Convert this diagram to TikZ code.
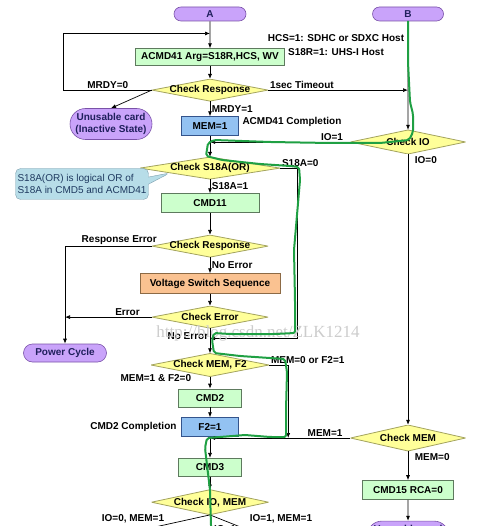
\documentclass[tikz,border=0pt]{standalone}
\usepackage{fontspec}
\setmainfont{Liberation Sans}
\newfontfamily\wmfont{Liberation Serif}
\usetikzlibrary{arrows.meta,positioning,shapes.misc,shapes.callouts,calc}
\definecolor{termfill}{HTML}{C9A3FA}
\definecolor{termline}{HTML}{7A52A8}
\definecolor{termtext}{HTML}{1F1F5C}
\definecolor{procfill}{HTML}{CCFFCC}
\definecolor{procline}{HTML}{5E7A5E}
\definecolor{setfill}{HTML}{93C2F2}
\definecolor{setline}{HTML}{34548C}
\definecolor{voltfill}{HTML}{FAC291}
\definecolor{voltline}{HTML}{8C6A45}
\definecolor{diafill}{HTML}{FFFF99}
\definecolor{dialine}{HTML}{A3A35E}
\definecolor{notefill}{HTML}{B7DDE8}
\definecolor{noteline}{HTML}{7D9FAE}
\definecolor{notetext}{HTML}{1F3A60}
\definecolor{tracegreen}{HTML}{1FA043}

\begin{document}
\begin{tikzpicture}[x=1pt,y=-1pt,
    font=\fontsize{10}{12}\selectfont\bfseries,
    term/.style={rounded rectangle,draw=termline,fill=termfill,text=termtext,line width=0.6pt,
      minimum width=74pt,minimum height=14pt,inner sep=1pt},
    proc/.style={draw=procline,fill=procfill,line width=0.6pt,minimum width=149pt,minimum height=17pt,inner sep=1pt},
    setbox/.style={draw=setline,fill=setfill,line width=0.6pt,minimum width=57pt,minimum height=19pt,inner sep=1pt},
    volt/.style={draw=voltline,fill=voltfill,line width=0.6pt,minimum width=140pt,minimum height=20pt,inner sep=1pt},
    decision/.style={minimum width=116pt,minimum height=22pt,inner sep=0pt,
      path picture={\draw[draw=dialine,fill=diafill,line width=0.8pt]
        (path picture bounding box.west) -- (path picture bounding box.north) --
        (path picture bounding box.east) -- (path picture bounding box.south) -- cycle;}},
    note/.style={rectangle callout,rounded corners=5pt,draw=noteline,fill=notefill,text=notetext,
      font=\fontsize{10}{11.5}\selectfont,align=left,minimum width=131pt,minimum height=31pt,inner sep=2pt},
    lbl/.style={font=\fontsize{10}{12}\selectfont\bfseries,inner sep=1.5pt},
    arr/.style={-{Latex[length=5pt,width=4pt]},line width=0.7pt},
    link/.style={line width=0.7pt},
    trace/.style={draw=tracegreen,line width=2pt,rounded corners=2pt,line join=round},
    wmk/.style={font=\wmfont\fontsize{17}{20}\selectfont,text=black!20}]

  \useasboundingbox (0,0) rectangle (500,526);
  \clip (0,0) rectangle (500,526);

  % main column
  \node[term] (A) at (210,14) {A};
  \node[proc,below=27pt of A] (acmd41) {ACMD41 Arg=S18R,HCS, WV};
  \node[decision,below=13pt of acmd41] (resp1) {Check Response};
  \node[setbox,below=15pt of resp1] (mem1) {MEM=1};
  \node[decision,minimum width=140pt,below=21pt of mem1] (s18a) {Check S18A(OR)};
  \node[proc,minimum width=98pt,minimum height=19pt,below=14pt of s18a] (cmd11) {CMD11};
  \node[decision,below=22pt of cmd11] (resp2) {Check Response};
  \node[volt,below=16pt of resp2] (vss) {Voltage Switch Sequence};
  \node[decision,below=12pt of vss] (cerr) {Check Error};
  \node[decision,minimum width=118pt,minimum height=23pt,below=25pt of cerr] (memf2) {Check MEM, F2};
  \node[proc,minimum width=63pt,minimum height=18pt,below=12pt of memf2] (cmd2) {CMD2};
  \node[setbox,below=10pt of cmd2] (f2) {F2=1};
  \node[proc,minimum width=63pt,minimum height=18pt,below=21pt of f2] (cmd3) {CMD3};
  \node[decision,minimum width=117pt,minimum height=25pt,below=13pt of cmd3] (iomem) {Check IO, MEM};

  % right column
  \node[term,minimum width=73pt] (B) at (408,14) {B};
  \node[decision,minimum width=115pt,minimum height=24pt] (cio) at (408,142) {Check IO};
  \node[decision,minimum width=115pt,minimum height=26pt] (cmem) at (408,438) {Check MEM};
  \node[proc,minimum width=91pt,minimum height=19pt,below=29pt of cmem] (cmd15) {CMD15 RCA=0};
  \node[term,minimum width=84pt,minimum height=30pt,align=center,below=21pt of cmd15] (inactive)
    {Unusable card\\(Inactive State)};

  % left side
  \node[term,minimum width=84pt,minimum height=31pt,align=center] (unusable) at (111,124)
    {Unusable card\\(Inactive State)};
  \node[term,minimum width=85pt,minimum height=18pt] (pwr) at (65,353) {Power Cycle};

  % notes
  \node[lbl,align=center] (hostnote) at (336,45) {HCS=1: SDHC or SDXC Host\\[2pt]S18R=1: UHS-I Host};
  \coordinate (s18tip) at ($(s18a.west)!0.43!(s18a.south)$);
  \node[note,callout absolute pointer={(s18tip)}] (orNote) at (82,184)
    {S18A(OR) is logical OR of\\S18A in CMD5 and ACMD41};

  % connectors
  \draw[arr] (A) -- (acmd41);
  \coordinate (loopin) at ($(A.south)!0.45!(acmd41.north)$);
  \draw[arr] (resp1.west) -- node[lbl,above]{MRDY=0} ++(-88pt,0) |- (loopin);
  \draw[arr] (acmd41) -- (resp1);
  \draw[arr] (resp1.west) -- (unusable.north);
  \coordinate (tmo) at (resp1.east -| B.south);
  \draw[arr] (resp1.east) -- (tmo) node[lbl,pos=0,above right]{1sec Timeout};
  \draw[arr] (B) -- (cio);
  \draw[arr] (resp1) -- node[lbl,right]{MRDY=1} (mem1);
  \node[lbl,right=2pt of mem1,yshift=4pt] (acmdDone) {ACMD41 Completion};
  \draw[arr] (mem1) -- (s18a);
  \draw[arr] (cio.west) -- (cio.west -| s18a.north) node[lbl,pos=0.13,above]{IO=1};
  \draw[arr] (s18a) -- node[lbl,right]{S18A=1} (cmd11);
  \coordinate (s18in) at ($(cerr.south)!0.4!(memf2.north)$);
  \draw[arr] (s18a.east) -- node[lbl,pos=0,above right]{S18A=0} ++(17pt,0) |- (s18in);
  \draw[arr] (cmd11) -- (resp2);
  \draw[arr] (resp2.west) -- node[lbl,pos=0.375,above]{Response Error} (resp2.west -| pwr.north) -- (pwr.north);
  \draw[arr] (resp2) -- node[lbl,right]{No Error} (vss);
  \draw[arr] (vss) -- (cerr);
  \draw[arr] (cerr.west) -- (cerr.west -| pwr.north) node[lbl,pos=0.28,above]{Error};
  \draw[arr] (cerr) -- node[lbl,left,pos=0.3]{No Error} (memf2);
  \coordinate (mjoin) at ($(memf2.east)+(19pt,0)$);
  \draw[arr] (memf2.east) -- (mjoin) node[lbl,pos=0,above right]{MEM=0 or F2=1} -- (mjoin |- cmem.west);
  \draw[arr] (memf2) -- node[lbl,pos=0.1,anchor=east,xshift=-17pt]{MEM=1 \& F2=0} (cmd2);
  \draw[arr] (cmd2) -- (f2);
  \node[lbl,left=3pt of f2] (cmd2Done) {CMD2 Completion};
  \draw[arr] (f2) -- (cmd3);
  \draw[arr] (cmem.west) -- (cmem.west -| f2.south) node[lbl,pos=0.18,above]{MEM=1};
  \draw[arr] (cmd3) -- (iomem);
  \draw[arr] (cio) -- node[lbl,pos=0,below right,xshift=5pt]{IO=0} (cmem);
  \draw[arr] (cmem) -- node[lbl,pos=0,below right,xshift=5pt]{MEM=0} (cmd15);
  \draw[arr] (cmd15) -- (inactive);

  % branches leaving the page
  \coordinate (outL) at (105,538);
  \coordinate (outM) at (210,540);
  \coordinate (outR) at (268,538);
  \draw[link] (iomem.south) -- (outL);
  \draw[link] (iomem.south) -- (outM);
  \draw[link] (iomem.south) -- (outR);
  \node[lbl] (brL) at (133,519) {IO=0, MEM=1};
  \node[lbl] (brR) at (281,519) {IO=1, MEM=1};
  \node[lbl] (brM) at (225,529) {IO=1};

  \node[wmk] (wm) at (258,333) {http://blog.csdn.net/ZLK1214};

  % hand-drawn trace
  \draw[trace] (408,21) -- (408,62) -- (410,102) -- (413,114) -- (413,132) -- (409,140)
    -- (380,143) -- (330,143) -- (270,142) -- (214,140) -- (208,143) -- (206,156)
    -- (222,160) -- (260,164) -- (290,166) -- (299,167) -- (300,180) -- (297,215)
    -- (294,250) -- (295,300) -- (295,333) -- (275,334) -- (230,334) -- (214,333)
    -- (212,340) -- (214,353) -- (240,356) -- (270,358) -- (285,359) -- (287,372)
    -- (286,410) -- (286,437) -- (270,437) -- (245,435) -- (220,437) -- (207,438)
    -- (205,448) -- (207,465) -- (210,490) -- (211,526) -- (212,540);
\end{tikzpicture}
\end{document}
